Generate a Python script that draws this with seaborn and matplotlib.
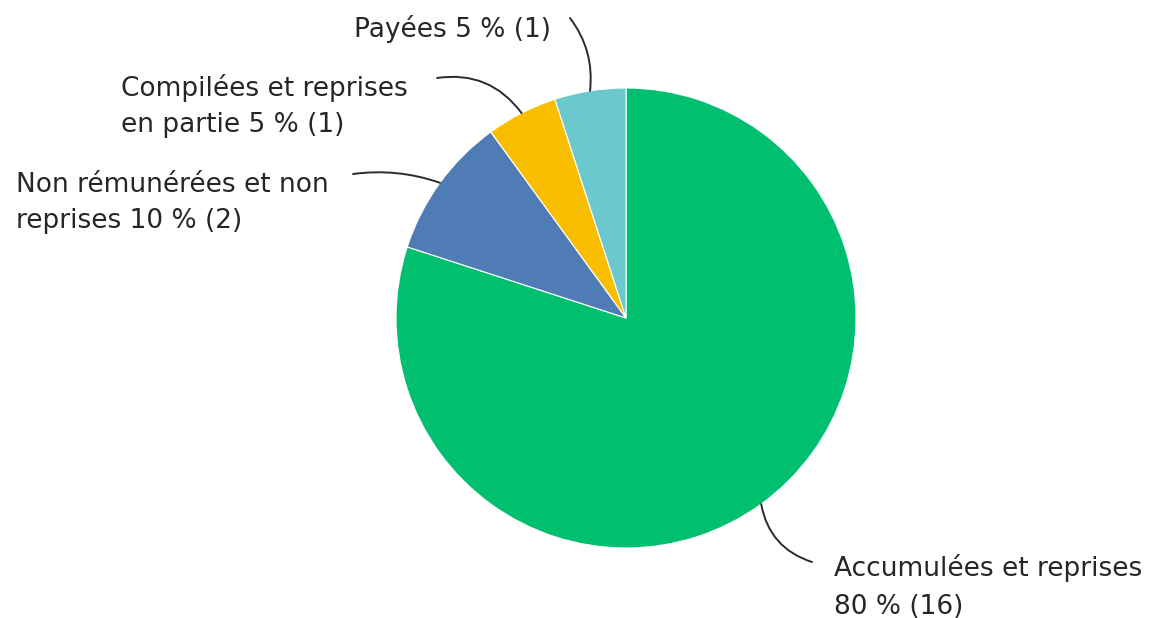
import numpy as np
import seaborn as sns
import matplotlib.pyplot as plt

labels = ["Accumulées et reprises\n80 % (16)",
          "Non rémunérées et non\nreprises 10 % (2)",
          "Compilées et reprises\nen partie 5 % (1)",
          "Payées 5 % (1)"]
counts = [16, 2, 1, 1]
colors = ["#00bf6f", "#507cb6", "#f9be00", "#6bc8cd"]

# label text position (left x, center y) and connector end, in pixels from top-left
text_pos = [(834, 587), (16, 203), (121, 106), (354, 29)]
line_end = [(812, 562), (353, 174), (437, 78), (570, 18)]
line_rad = [-0.3, -0.12, -0.3, -0.2]

sns.set_theme(style="white")
plt.rcParams['font.family'] = ['DejaVu Sans']

W, H = 1157, 618
fig = plt.figure(figsize=(W / 100, H / 100), dpi=100)
ax = fig.add_axes([0, 0, 1, 1])
ax.set_xlim(0, W)
ax.set_ylim(0, H)
ax.set_aspect('equal')
ax.axis('off')

cx, cy, r = 626, H - 318, 230
wedges, _ = ax.pie(counts, colors=sns.color_palette(colors), startangle=90,
                   counterclock=False, radius=r, center=(cx, cy),
                   wedgeprops=dict(linewidth=0.8, edgecolor='white'))
ax.set_xlim(0, W)
ax.set_ylim(0, H)

for w, lab, tp, le, rad in zip(wedges, labels, text_pos, line_end, line_rad):
    ang = np.deg2rad((w.theta1 + w.theta2) / 2)
    anchor = (cx + r * np.cos(ang), cy + r * np.sin(ang))
    ax.annotate("", xy=anchor, xytext=(le[0], H - le[1]),
                arrowprops=dict(arrowstyle='-', color='#2b2b2b', lw=1.4,
                                shrinkA=0, shrinkB=0,
                                connectionstyle=f"arc3,rad={rad}"))
    ax.text(tp[0], H - tp[1], lab, ha='left', va='center', fontsize=19,
            color='#262626', linespacing=1.55)

fig.savefig("out.png", dpi=100)
